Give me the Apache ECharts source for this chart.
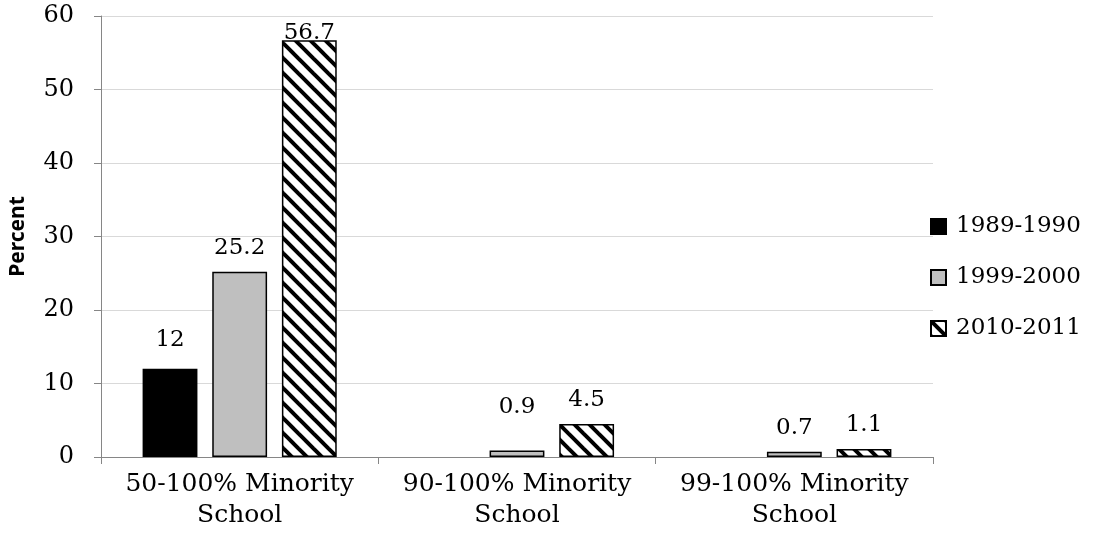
<!DOCTYPE html>
<html><head><meta charset="utf-8">
<script src="https://cdn.jsdelivr.net/npm/echarts@6/dist/echarts.min.js"></script>
<style>html,body{margin:0;padding:0;background:#fff}#c{width:1095px;height:542px}</style>
</head><body><div id="c"></div>
<script>
var categories = ['50-100% Minority\nSchool', '90-100% Minority\nSchool', '99-100% Minority\nSchool'];
var seriesNames = ['1989-1990', '1999-2000', '2010-2011'];
var values1989 = [12, null, null];
var values1999 = [25.2, 0.9, 0.7];
var values2010 = [56.7, 4.5, 1.1];
var yTicks = {min: 0, max: 60, interval: 10};

function hatch() {
  var s = 15, c = document.createElement('canvas');
  c.width = s; c.height = s;
  var g = c.getContext('2d');
  g.fillStyle = '#fff'; g.fillRect(0, 0, s, s);
  g.strokeStyle = '#000'; g.lineWidth = 4;
  [-s, 0, s].forEach(function (o) {
    g.beginPath(); g.moveTo(o - 2, -2); g.lineTo(o + s + 2, s + 2); g.stroke();
  });
  return c;
}
var pat = {image: hatch(), repeat: 'repeat'};
var FONT = 'DejaVu Serif';

function withOffsets(arr, offs) {
  return arr.map(function (v, i) {
    if (offs[i]) return {value: v, label: {offset: offs[i]}};
    return v;
  });
}

var chart = echarts.init(document.getElementById('c'));
var lbl = {show: true, position: 'top', distance: 12, color: '#000', fontFamily: FONT, fontSize: 23};
chart.setOption({
  animation: false,
  grid: {left: 100, right: 162, top: 16, bottom: 85},
  legend: {
    orient: 'vertical', left: 930, top: 215, padding: 0, itemGap: 28, itemWidth: 15, itemHeight: 15,
    icon: 'rect',
    textStyle: {fontFamily: FONT, fontSize: 23, color: '#000', padding: [0, 0, 0, 5]},
    data: seriesNames
  },
  xAxis: {
    type: 'category', data: categories,
    axisLine: {lineStyle: {color: '#868686', width: 1}},
    axisTick: {show: true, length: 7, lineStyle: {color: '#868686'}},
    axisLabel: {interval: 0, fontFamily: FONT, fontSize: 25, color: '#000', lineHeight: 31, margin: 12}
  },
  yAxis: {
    type: 'value', min: yTicks.min, max: yTicks.max, interval: yTicks.interval,
    name: 'Percent', nameLocation: 'middle', nameGap: 72, nameRotate: 90, nameMoveOverlap: false,
    nameTextStyle: {fontFamily: 'Noto Sans', fontWeight: 'bold', fontSize: 21, color: '#000'},
    axisLine: {show: true, lineStyle: {color: '#868686'}},
    axisTick: {show: true, length: 7, lineStyle: {color: '#868686'}},
    axisLabel: {fontFamily: FONT, fontSize: 24, color: '#000', margin: 27},
    splitLine: {lineStyle: {color: '#D9D9D9', width: 1}}
  },
  series: [
    {name: seriesNames[0], type: 'bar', data: withOffsets(values1989, [[0, -5], null, null]),
     barGap: '27%', barCategoryGap: '30%',
     itemStyle: {color: '#000', borderColor: '#000', borderWidth: 1.5}, label: lbl},
    {name: seriesNames[1], type: 'bar', data: withOffsets(values1999, [null, [0, -20], null]),
     itemStyle: {color: '#BFBFBF', borderColor: '#000', borderWidth: 1.5}, label: lbl},
    {name: seriesNames[2], type: 'bar', data: withOffsets(values2010, [[0, 16], null, null]),
     itemStyle: {color: pat, borderColor: '#000', borderWidth: 1.5}, label: lbl}
  ]
});
</script></body></html>
